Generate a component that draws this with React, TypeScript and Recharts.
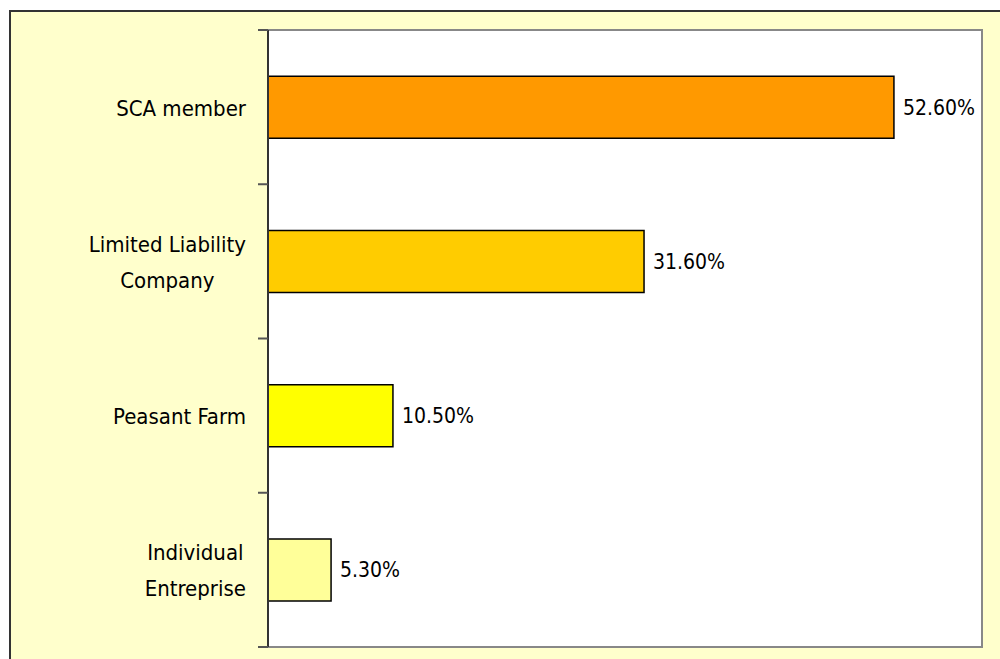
import { BarChart, Bar, XAxis, YAxis, CartesianGrid, ReferenceArea, LabelList, Cell } from 'recharts';

const categories = ['SCA member', 'Limited Liability\nCompany', 'Peasant Farm', 'Individual\nEntreprise'];
const shares = [52.6, 31.6, 10.5, 5.3];
const barColors = ['#FF9900', '#FFCC00', '#FFFF00', '#FFFF99'];
const xDomain = [0, 60];

const W = 1000;
const H = 659;
const TOP = 30;
const BOTTOM = 12;
const AXIS_X = 268;
const RIGHT = 18;
const FONT = '"DejaVu Sans Condensed", "DejaVu Sans", Verdana, sans-serif';
const CAT_SIZE = 22;
const VALUE_SIZE = 21;

const data = categories.map((name, i) => ({ name, value: shares[i] }));

// rough text measuring so the wrapped labels are centred like Excel does it
function textWidth(s: string) {
  const ctx = document.createElement('canvas').getContext('2d');
  if (!ctx) return s.length * CAT_SIZE * 0.55;
  ctx.font = `${CAT_SIZE}px ${FONT}`;
  return ctx.measureText(s).width;
}

function CategoryTick(props: any) {
  const { y, payload, index } = props;
  const band = (H - TOP - BOTTOM) / categories.length;
  const lines = String(payload.value).split('\n');
  const maxW = Math.max(...lines.map(textWidth));
  const right = AXIS_X - 22;
  const cx = right - maxW / 2;
  return (
    <g>
      {index === 0 && (
        <line x1={AXIS_X - 10} x2={AXIS_X} y1={y - band / 2} y2={y - band / 2} stroke="#555" strokeWidth={2} />
      )}
      <line x1={AXIS_X - 10} x2={AXIS_X} y1={y + band / 2} y2={y + band / 2} stroke="#555" strokeWidth={2} />
      {lines.map((l, i) => (
        <text
          key={i}
          x={cx}
          y={y + 1 + (i - (lines.length - 1) / 2) * 36}
          textAnchor="middle"
          dominantBaseline="central"
          fontFamily={FONT}
          fontSize={CAT_SIZE}
          fill="#000"
        >
          {l}
        </text>
      ))}
    </g>
  );
}

export default function App() {
  return (
    <div style={{ position: 'absolute', left: 0, top: 0, width: W, height: H, background: '#fff', overflow: 'hidden' }}>
      <div
        style={{
          position: 'absolute',
          left: 9,
          top: 10,
          width: W,
          height: H,
          background: '#FFFFCC',
          borderTop: '2px solid #333',
          borderLeft: '2px solid #333',
        }}
      />
      <div style={{ position: 'absolute', left: 0, top: 0 }}>
        <BarChart
          width={W}
          height={H}
          data={data}
          layout="vertical"
          margin={{ top: TOP, right: RIGHT, bottom: BOTTOM, left: 0 }}
          barCategoryGap="30%"
        >
          <CartesianGrid horizontal={false} vertical={false} fill="#fff" />
          <ReferenceArea x1={xDomain[0]} x2={xDomain[1]} fill="none" stroke="#888" strokeWidth={2} ifOverflow="visible" />
          <XAxis type="number" domain={xDomain} hide />
          <YAxis
            type="category"
            dataKey="name"
            width={AXIS_X}
            axisLine={{ stroke: '#333', strokeWidth: 2 }}
            tickLine={false}
            tick={<CategoryTick />}
            interval={0}
          />
          <Bar dataKey="value" stroke="#000" strokeWidth={1.5} isAnimationActive={false}>
            {data.map((d, i) => (
              <Cell key={d.name} fill={barColors[i]} />
            ))}
            <LabelList
              dataKey="value"
              position="right"
              offset={9}
              formatter={(v: any) => `${Number(v).toFixed(2)}%`}
              style={{ fontFamily: FONT, fontSize: VALUE_SIZE, fill: '#000' }}
            />
          </Bar>
        </BarChart>
      </div>
    </div>
  );
}
